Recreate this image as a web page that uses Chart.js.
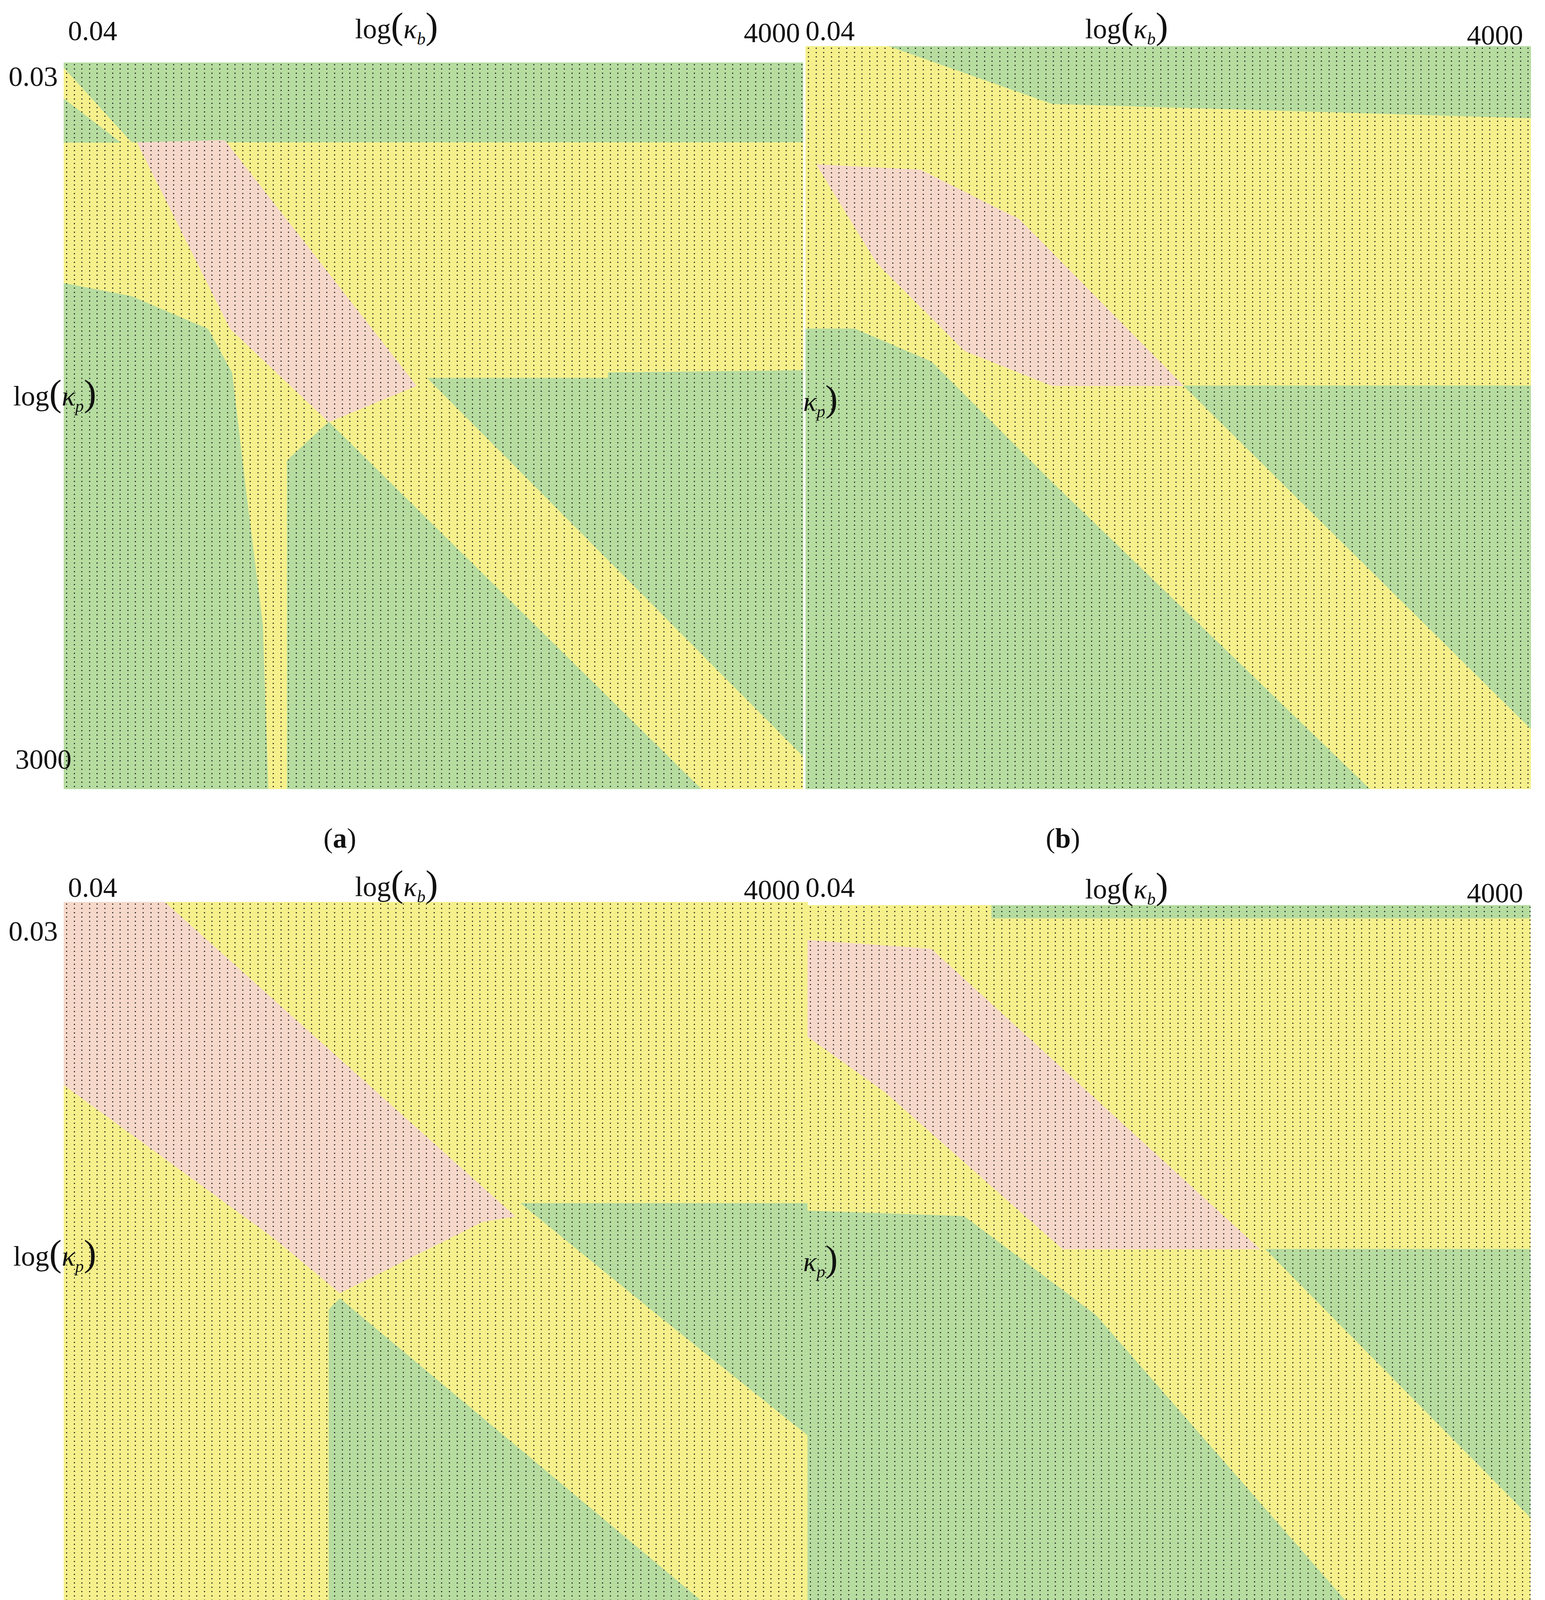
<!DOCTYPE html>
<html><head><meta charset="utf-8">
<script src="https://cdn.jsdelivr.net/npm/chart.js@4/dist/chart.umd.min.js"></script>
<style>
body{margin:0;width:3955px;height:4367px;background:#fff;position:relative;overflow:hidden;font-family:"Liberation Serif","DejaVu Serif",serif;}
canvas{position:absolute;}
.t{position:absolute;font-size:72px;line-height:1;white-space:nowrap;transform:translateY(-50%);color:#111;}
.c{transform:translate(-50%,-50%);}
.r{transform:translate(-100%,-50%);}
.k{font-style:italic;}
.p{font-size:96px;font-weight:300;}
sub{font-size:44px;font-style:italic;}
</style></head><body>
<script>
/* colours of the three regimes */
const GREEN='rgb(182,220,160)', YELLOW='rgb(246,240,140)', PINK='rgb(246,216,202)';

/* region outlines per panel, in grid units of each panel (x right, y down) */
const aBase=GREEN;
const aYellow=[[0,5],[62,73],[675,73],[675,663],[187,663],[182,513],[167,393],[154,283],[132,243],[62,213],[0,201]];
const aGreenTri=[[0,33],[52,73],[0,73]];
const aGreenRight=[[332,288],[497,288],[497,283],[675,281],[675,633]];
const aGreenLow=[[204,663],[204,363],[242,328],[582,663]];
const aPink=[[67,73],[147,71],[322,295],[242,328],[152,243]];

const bBase=GREEN;
const bYellow=[[0,0],[75,0],[225,53],[662,66],[662,678],[0,678]];
const bGreenRight=[[345,310],[662,310],[662,623]];
const bGreenLow=[[0,258],[45,258],[115,288],[225,398],[515,678],[0,678]];
const bPink=[[10,108],[105,113],[195,158],[345,310],[225,310],[145,278],[65,198]];

const cBase=YELLOW;
const cPink=[[0,0],[92,0],[412,287],[382,292],[252,357],[192,307],[0,167]];
const cGreenRight=[[417,275],[679,275],[679,487],[542,377]];
const cGreenLow=[[242,680],[242,372],[252,362],[632,680]];

const dBase=YELLOW;
const dGreenTop=[[168,0],[660,0],[660,12],[168,12]];
const dPink=[[0,32],[113,40],[413,314],[233,314],[70,170],[0,120]];
const dGreenLow=[[0,279],[143,284],[263,374],[528,677],[0,677]];
const dGreenRight=[[418,314],[660,314],[660,559]];

const S=2.805;
const panels=[
  {id:'a',x0:58,y0:57,w:675,h:663,base:aBase,regions:[[aYellow,YELLOW],[aGreenTri,GREEN],[aGreenRight,GREEN],[aGreenLow,GREEN],[aPink,PINK]]},
  {id:'b',x0:735,y0:42,w:662,h:678,base:bBase,regions:[[bYellow,YELLOW],[bGreenRight,GREEN],[bGreenLow,GREEN],[bPink,PINK]]},
  {id:'c',x0:58,y0:823,w:679,h:680,base:cBase,regions:[[cPink,PINK],[cGreenRight,GREEN],[cGreenLow,GREEN]]},
  {id:'d',x0:737,y0:826,w:660,h:677,base:dBase,regions:[[dGreenTop,GREEN],[dPink,PINK],[dGreenLow,GREEN],[dGreenRight,GREEN]]}
];

const dots={id:'dots',
  beforeDatasetsDraw(ch,a,o){const {left,top,right,bottom}=ch.chartArea;const c=ch.ctx;c.save();c.fillStyle=o.base;c.fillRect(left,top,right-left,bottom-top);c.restore();},
  afterDatasetsDraw(ch){const {left,top,right,bottom}=ch.chartArea;const c=ch.ctx;c.save();c.fillStyle='rgba(20,20,20,0.85)';
    for(let x=left+6;x<right;x+=19.6)for(let y=top+4;y<bottom;y+=11)c.fillRect(Math.round(x),Math.round(y),3,3);c.restore();}};

panels.forEach(p=>{
  const cv=document.createElement('canvas');
  const W=Math.round(p.w*S),H=Math.round(p.h*S);
  cv.width=W;cv.height=H;
  cv.style.left=Math.round(p.x0*S)+'px';cv.style.top=Math.round(p.y0*S)+'px';
  cv.style.width=W+'px';cv.style.height=H+'px';
  document.body.appendChild(cv);
  const n=p.regions.length;
  new Chart(cv.getContext('2d'),{
    type:'scatter',
    data:{datasets:p.regions.map(([pts,col],i)=>({
      data:[...pts,pts[0]].map(([x,y])=>({x,y})),
      order:n-i,   // later regions are painted on top
      showLine:true,fill:'shape',backgroundColor:col,borderColor:col,borderWidth:1,pointRadius:0,tension:0
    }))},
    options:{responsive:false,animation:false,devicePixelRatio:1,
      layout:{padding:0},
      plugins:{legend:{display:false},tooltip:{enabled:false},dots:{base:p.base}},
      scales:{x:{type:'linear',min:0,max:p.w,display:false},
              y:{type:'linear',min:0,max:p.h,reverse:true,display:false}}},
    plugins:[dots]
  });
});

/* text labels: [text html, x, y, align] in reference display units */
const logB='log<span class="p">(</span><span class="k">κ</span><sub>b</sub><span class="p">)</span>';
const logP='log<span class="p">(</span><span class="k">κ</span><sub>p</sub><span class="p">)</span>';
const kP='<span class="k">κ</span><sub>p</sub><span class="p">)</span>';
const labels=[
 ['0.04',62,28,''],[logB,362,25,'c'],['4000',730,30,'r'],['0.03',8,70,''],[logP,12,360,''],['3000',14,693,''],['(<b>a</b>)',310,765,'c'],
 ['0.04',735,28,''],[logB,1028,25,'c'],['4000',1390,32,'r'],[kP,733,365,''],['(<b>b</b>)',970,765,'c'],
 ['0.04',62,810,''],[logB,362,808,'c'],['4000',730,812,'r'],['0.03',8,850,''],[logP,12,1145,''],['3000',14,1480,''],['(<b>c</b>)',313,1548,'c'],
 ['0.04',735,810,''],[logB,1028,810,'c'],['4000',1390,815,'r'],[kP,733,1150,''],['(<b>d</b>)',970,1548,'c']
];
labels.forEach(([h,x,y,al])=>{const d=document.createElement('div');d.className='t '+al;d.innerHTML=h;
  d.style.left=Math.round(x*S)+'px';d.style.top=Math.round(y*S)+'px';document.body.appendChild(d);});
</script>
</body></html>
